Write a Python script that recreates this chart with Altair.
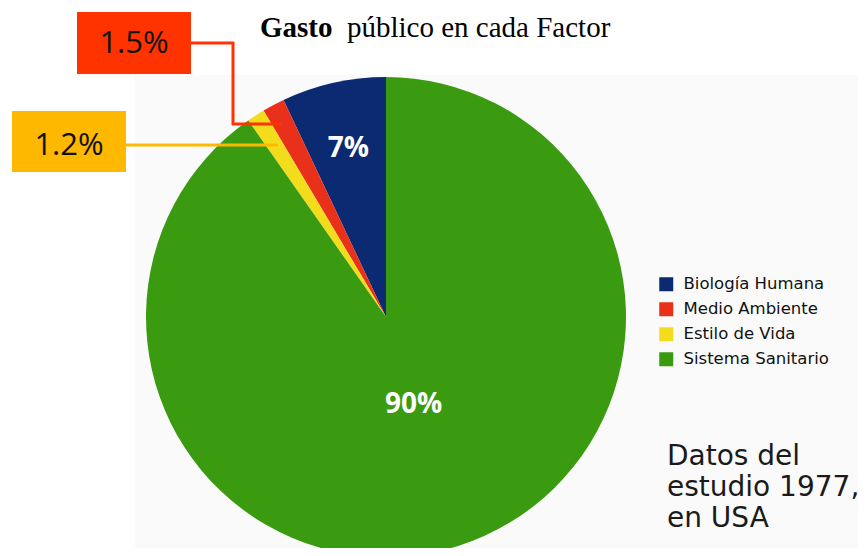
import altair as alt
import pandas as pd

categories = ["Biología Humana", "Medio Ambiente", "Estilo de Vida", "Sistema Sanitario"]
values = [7, 1.5, 1.2, 90]
labels = ["7%", "1.5%", "1.2%", "90%"]
colors = ["#0b2a72", "#e8301a", "#f3dc1c", "#3a9a10"]
title_bold = "Gasto"
title_rest = "público en cada Factor"
note_lines = ["Datos del", "estudio 1977,", "en USA"]

df = pd.DataFrame({"cat": categories, "value": values, "label": labels, "idx": list(range(len(categories)))})

CX, CY = 378, 309

base = alt.Chart(df)

bg = alt.Chart(pd.DataFrame({"a": [0]})).mark_rect(color="#fafafa").encode(
    x=alt.value(127), x2=alt.value(850), y=alt.value(67), y2=alt.value(540)
)

arc = base.mark_arc(outerRadius=240).encode(
    theta=alt.Theta("value:Q", stack=True),
    color=alt.Color(
        "cat:N",
        scale=alt.Scale(domain=categories, range=colors),
        legend=alt.Legend(
            title=None, orient="none", legendX=650, legendY=268,
            symbolType="square", symbolSize=196, symbolStrokeWidth=0,
            labelFont="DejaVu Sans", labelFontSize=16.5, labelColor="#111111",
            labelOffset=9, rowPadding=8,
        ),
    ),
    order=alt.Order("idx:Q", sort="descending"),
    x=alt.value(CX), y=alt.value(CY),
)

# label angles: middle of each slice, slices drawn clockwise from the top in
# descending idx order
inside = base.transform_joinaggregate(
    total="sum(value)"
).transform_window(
    cum="sum(value)", sort=[alt.SortField("idx", order="descending")],
    frame=[None, 0]
).transform_calculate(
    ang="(datum.cum - datum.value / 2) / datum.total * 2 * PI",
    lab="datum.value > 5 ? datum.label : ''",
    r="datum.value > 50 ? 92 : 172",
).mark_text(font="Open Sans", fontWeight="bold", fontSize=28, color="white").encode(
    theta=alt.Theta("ang:Q", scale=None),
    radius=alt.Radius("r:Q", scale=None),
    text="lab:N",
    x=alt.value(CX), y=alt.value(CY),
)

one = pd.DataFrame({"a": [0]})

red_box = alt.Chart(one).mark_rect(color="#ff3300").encode(
    x=alt.value(69), x2=alt.value(183), y=alt.value(4), y2=alt.value(66))
yel_box = alt.Chart(one).mark_rect(color="#ffb800").encode(
    x=alt.value(4), x2=alt.value(118), y=alt.value(103), y2=alt.value(164))

red_lines = alt.Chart(one).mark_rule(color="#ff3300", strokeWidth=3)
r1 = red_lines.encode(x=alt.value(183), x2=alt.value(226), y=alt.value(35))
r2 = red_lines.encode(x=alt.value(225), y=alt.value(34), y2=alt.value(117))
r3 = red_lines.encode(x=alt.value(224), x2=alt.value(274), y=alt.value(116))
y1 = alt.Chart(one).mark_rule(color="#ffb800", strokeWidth=3).encode(
    x=alt.value(118), x2=alt.value(270), y=alt.value(137))

red_txt = alt.Chart(pd.DataFrame({"t": [labels[1]]})).mark_text(
    font="Open Sans", fontSize=31, color="#111111", baseline="middle"
).encode(text="t:N", x=alt.value(126), y=alt.value(36))
yel_txt = alt.Chart(pd.DataFrame({"t": [labels[2]]})).mark_text(
    font="Open Sans", fontSize=31, color="#111111", baseline="middle"
).encode(text="t:N", x=alt.value(61), y=alt.value(138))

t_bold = alt.Chart(pd.DataFrame({"t": [title_bold]})).mark_text(
    font="Liberation Serif", fontSize=29, fontWeight="bold", align="left",
    baseline="alphabetic", color="#000000"
).encode(text="t:N", x=alt.value(252), y=alt.value(29))
t_rest = alt.Chart(pd.DataFrame({"t": [title_rest]})).mark_text(
    font="Liberation Serif", fontSize=29, align="left",
    baseline="alphabetic", color="#000000"
).encode(text="t:N", x=alt.value(339), y=alt.value(29))

note = alt.Chart(pd.DataFrame({"t": [note_lines]})).mark_text(
    font="DejaVu Sans", fontSize=28, align="left", baseline="alphabetic",
    color="#1a1a1a", lineHeight=31
).encode(text="t", x=alt.value(659), y=alt.value(457))

chart = alt.layer(
    bg, arc, inside, r1, r2, r3, y1, red_box, yel_box, red_txt, yel_txt,
    t_bold, t_rest, note
).properties(
    width=850, height=540, autosize=alt.AutoSizeParams(type="none"), padding=0
).configure_view(strokeWidth=0)

chart.save("out.html", embed_options={"renderer": "svg", "actions": False})
